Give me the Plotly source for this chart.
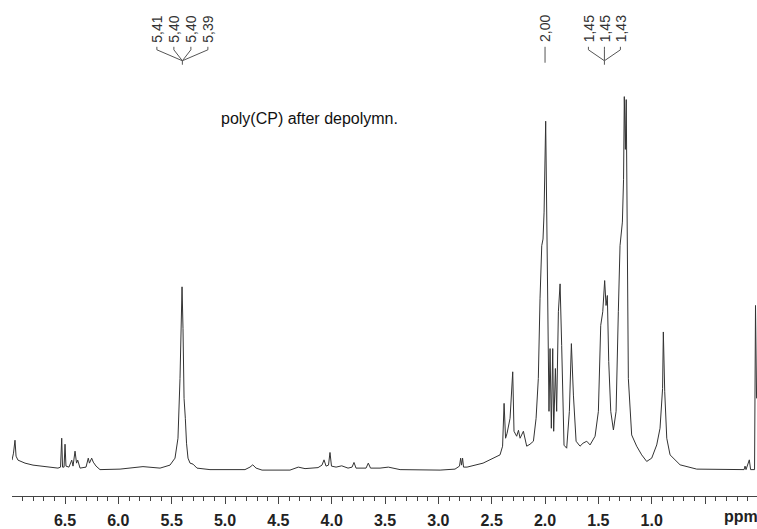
import plotly.graph_objects as go

# ---- spectrum data (chemical shift in ppm, intensity in arbitrary units) ----
ppm = [6.997, 6.983, 6.969, 6.959, 6.941, 6.875, 6.800, 6.688, 6.566, 6.542,
       6.531, 6.523, 6.509, 6.500, 6.491, 6.463, 6.437, 6.425, 6.406, 6.392,
       6.381, 6.359, 6.303, 6.282, 6.271, 6.250, 6.235, 6.209, 6.172, 5.984,
       5.769, 5.609, 5.516, 5.469, 5.441, 5.422, 5.413, 5.403, 5.394, 5.384,
       5.372, 5.361, 5.347, 5.328, 5.300, 5.263, 5.141, 4.813, 4.766, 4.740,
       4.709, 4.653, 4.391, 4.313, 4.250, 4.128, 4.091, 4.072, 4.053, 4.030,
       4.016, 4.002, 3.959, 3.906, 3.847, 3.809, 3.791, 3.772, 3.678, 3.657,
       3.636, 3.547, 3.469, 3.359, 2.984, 2.844, 2.802, 2.791, 2.783, 2.773,
       2.764, 2.731, 2.581, 2.488, 2.422, 2.398, 2.384, 2.370, 2.356, 2.328,
       2.303, 2.291, 2.266, 2.249, 2.234, 2.203, 2.172, 2.141, 2.109, 2.084,
       2.063, 2.047, 2.031, 2.019, 2.009, 1.994, 1.986, 1.978, 1.972, 1.963,
       1.953, 1.941, 1.928, 1.919, 1.903, 1.891, 1.875, 1.859, 1.844, 1.831,
       1.822, 1.797, 1.772, 1.753, 1.734, 1.709, 1.672, 1.644, 1.609, 1.578,
       1.531, 1.500, 1.478, 1.459, 1.441, 1.428, 1.416, 1.403, 1.384, 1.359,
       1.334, 1.313, 1.297, 1.275, 1.264, 1.257, 1.247, 1.239, 1.231, 1.219,
       1.188, 1.141, 1.094, 1.047, 1.000, 0.953, 0.922, 0.906, 0.898, 0.891,
       0.878, 0.859, 0.828, 0.734, 0.578, 0.134, 0.125, 0.116, 0.085, 0.073,
       0.036, 0.027, 0.017]

intensity = [10, 17, 30, 14, 10, 7, 5, 3.5, 2, 3,
             32, 3, 3, 26, 4, 3, 10, 4, 19, 7,
             10, 2, 3, 12, 7, 12, 8, 4, 0.5, 1,
             3.5, 2, 5, 12, 32, 92, 152, 184, 142, 72,
             52, 27, 12, 7, 6, 2, 0.5, 0.5, 3, 5.3,
             2, 0, 0, 3, 1.5, 2.5, 5, 10.3, 4, 5,
             17.7, 4, 3, 4.3, 2, 3, 7.7, 2, 2, 7,
             2, 2, 3, 0.5, 0, 1, 4, 12, 5, 12,
             3, 3, 7, 12, 15.3, 24, 67, 32, 37, 52,
             98.7, 39, 34, 40, 32, 39, 24, 26, 29, 52,
             92, 172, 225.3, 232, 259, 350.3, 272, 192, 112, 59,
             122, 42, 122, 39, 102, 59, 159, 187, 125, 52,
             25, 22, 59, 127, 75.3, 29, 24, 27, 29, 25.3,
             34, 59, 145.3, 159, 190.3, 165.3, 175.3, 109, 59, 40.3,
             59, 159, 225.3, 249, 292, 375, 322, 372, 269, 92,
             35.3, 24, 15.3, 8.7, 12, 25.3, 42, 75.3, 82, 138.7,
             78.7, 32, 15.3, 5.3, 1, 0.5, 4, 0.5, 10.3, 0.5,
             0.5, 165.3, 72]

# axis tick labels
tick_values = [6.5, 6.0, 5.5, 5.0, 4.5, 4.0, 3.5, 3.0, 2.5, 2.0, 1.5, 1.0, 0.5]
tick_labels = ["6.5", "6.0", "5.5", "5.0", "4.5", "4.0", "3.5", "3.0", "2.5",
               "2.0", "1.5", "1.0", ""]

# peak picking groups
peak_groups = [[5.41, 5.40, 5.40, 5.39], [2.00], [1.45, 1.45, 1.43]]
title_text = "poly(CP) after depolymn."

# ---------------------------------------------------------------------------
W, H = 757, 529
ML, MR, MT, MB = 12, 0, 0, 31
PH = H - MT - MB


def py(pix):
    """pixel row (from top) -> paper y"""
    return (PH - pix) / PH


fig = go.Figure()
fig.add_trace(go.Scatter(x=ppm, y=intensity, mode="lines",
                         line=dict(color="#333333", width=1),
                         hoverinfo="skip", showlegend=False))

shapes = []
annotations = []
lc = "#555555"
group_spacing = [17, 0, 16]
for grp, sp in zip(peak_groups, group_spacing):
    centre = sum(grp) / len(grp)
    n = len(grp)
    for i, v in enumerate(grp):
        off = (i - (n - 1) / 2) * sp
        annotations.append(dict(
            x=centre, xref="x", xshift=off, y=py(29), yref="paper",
            text=f"{v:.2f}".replace(".", ","), textangle=-90,
            showarrow=False, xanchor="center", yanchor="middle",
            font=dict(family="Liberation Sans, Arial", size=14, color="#333333")))
        if n == 1:
            shapes.append(dict(type="line", xref="x", xsizemode="pixel", xanchor=centre,
                               x0=0, x1=0, yref="paper", y0=py(47), y1=py(63),
                               line=dict(color=lc, width=1)))
        else:
            shapes.append(dict(type="line", xref="x", xsizemode="pixel", xanchor=centre,
                               x0=off, x1=off, yref="paper", y0=py(47), y1=py(50),
                               line=dict(color=lc, width=1)))
            shapes.append(dict(type="line", xref="x", xsizemode="pixel", xanchor=centre,
                               x0=off, x1=0, yref="paper", y0=py(50), y1=py(61),
                               line=dict(color=lc, width=1)))
    if n > 1:
        shapes.append(dict(type="line", xref="x", xsizemode="pixel", xanchor=centre,
                           x0=0, x1=0, yref="paper", y0=py(61), y1=py(65),
                           line=dict(color=lc, width=1)))

annotations.append(dict(
    x=(309 - ML) / (W - ML - MR), xref="paper", y=py(119), yref="paper",
    text=title_text, showarrow=False, xanchor="center", yanchor="middle",
    font=dict(family="Liberation Sans, Arial", size=16, color="#111111")))

annotations.append(dict(
    x=(722 - ML) / (W - ML - MR), xref="paper", y=py(519), yref="paper",
    text="<b>ppm</b>", showarrow=False, xanchor="left", yanchor="middle",
    font=dict(family="Liberation Sans, Arial", size=16, color="#222222")))

fig.update_layout(
    width=W, height=H,
    margin=dict(l=ML, r=MR, t=MT, b=MB, pad=0),
    plot_bgcolor="white", paper_bgcolor="white",
    shapes=shapes, annotations=annotations,
    xaxis=dict(
        range=[6.997, 0.013], showgrid=False, zeroline=False,
        showline=True, linecolor="#444444", linewidth=1,
        ticks="outside", ticklen=7, tickcolor="#444444", tickwidth=1,
        tickmode="array", tickvals=tick_values, ticktext=tick_labels,
        tickfont=dict(family="Liberation Sans, Arial", size=16, color="#222222",
                      weight="bold"),
        ticklabelstandoff=3,
        minor=dict(dtick=0.1, tick0=0, ticks="outside", ticklen=4,
                   tickcolor="#444444", tickwidth=1, showgrid=False),
    ),
    yaxis=dict(visible=False, range=[-26, 472], showgrid=False, zeroline=False),
)

fig.write_html("out.html")
